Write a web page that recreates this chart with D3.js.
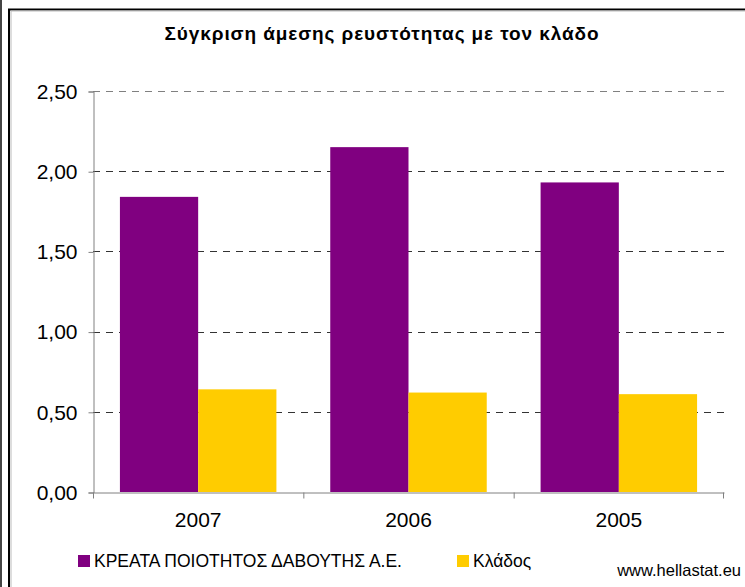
<!DOCTYPE html>
<html lang="el">
<head>
<meta charset="UTF-8" />
<title>Σύγκριση άμεσης ρευστότητας</title>
<style>
  body { margin: 0; background: #fff; }
  svg { display: block; font-family: "Liberation Sans", Arial, sans-serif; }
  .grid line { stroke: #333; stroke-dasharray: 7,6; }
  .grid line.top { stroke: #808080; }
</style>
</head>
<body>
<svg width="745" height="587"></svg>
<script src="https://d3js.org/d3.v7.min.js"></script>
<script>
const years = ['2007', '2006', '2005'];
const seriesNames = ['ΚΡΕΑΤΑ ΠΟΙΟΤΗΤΟΣ ΔΑΒΟΥΤΗΣ Α.Ε.', 'Κλάδος'];
const company = [1.84, 2.15, 1.93];
const sector = [0.64, 0.62, 0.61];
const yTicks = [0, 0.5, 1, 1.5, 2, 2.5];
const colors = ['#800080', '#ffcc00'];

const svg = d3.select('svg');

// outer frame
svg.append('rect').attr('x', 0).attr('y', 0).attr('width', 2).attr('height', 587).attr('fill', '#444');
svg.append('path').attr('d', 'M9,587V9.5H745').attr('fill', 'none').attr('stroke', '#000').attr('stroke-width', 2);
svg.append('path').attr('d', 'M11,587V11H745').attr('fill', 'none').attr('stroke', '#bbb').attr('stroke-width', 1);

svg.append('text')
    .attr('x', 382).attr('y', 40)
    .attr('text-anchor', 'middle')
    .attr('font-size', 19).attr('font-weight', 'bold')
    .attr('letter-spacing', 0.9)
    .text('Σύγκριση άμεσης ρευστότητας με τον κλάδο');

const plotLeft = 93, plotRight = 724, plotTop = 91, plotBottom = 492;

const y = d3.scaleLinear().domain([0, 2.5]).range([plotBottom, plotTop]);
const x0 = d3.scaleBand().domain(years).range([plotLeft, plotRight]);
const x1 = d3.scaleBand().domain([0, 1])
    .range([x0.bandwidth() * 0.128, x0.bandwidth() * 0.872]);

const fmt = d => d3.format('.2f')(d).replace('.', ',');

// gridlines
svg.append('g').attr('class', 'grid')
    .selectAll('line').data(yTicks.filter(d => d > 0)).join('line')
    .attr('class', d => d === 2.5 ? 'top' : null)
    .attr('x1', plotLeft).attr('x2', plotRight)
    .attr('y1', d => Math.round(y(d)) + 0.5).attr('y2', d => Math.round(y(d)) + 0.5);

// bars
const groups = svg.append('g').selectAll('g').data(years).join('g')
    .attr('transform', d => `translate(${x0(d)},0)`);
groups.selectAll('rect')
    .data((d, i) => [company[i], sector[i]])
    .join('rect')
    .attr('x', (d, j) => x1(j))
    .attr('width', x1.bandwidth())
    .attr('y', d => y(d))
    .attr('height', d => plotBottom - y(d))
    .attr('fill', (d, j) => colors[j]);

// y axis
const yAxis = svg.append('g')
    .attr('transform', `translate(${plotLeft + 0.5},0.5)`)
    .call(d3.axisLeft(y).tickValues(yTicks).tickFormat(fmt).tickSize(5).tickPadding(11));
yAxis.select('.domain').attr('stroke', '#808080');
yAxis.selectAll('.tick line').attr('stroke', '#808080');
yAxis.selectAll('.tick text').attr('font-size', 21).attr('fill', '#000')
    .attr('font-family', '"Liberation Sans", Arial, sans-serif');

// x axis
const xAxis = svg.append('g')
    .attr('transform', `translate(0,${plotBottom + 0.5})`)
    .call(d3.axisBottom(x0).tickSize(0).tickPadding(20));
xAxis.select('.domain').attr('stroke', '#808080');
xAxis.selectAll('.tick text').attr('font-size', 21).attr('fill', '#000')
    .attr('font-family', '"Liberation Sans", Arial, sans-serif');
xAxis.selectAll('line.sep').data(years.concat(['end'])).join('line')
    .attr('class', 'sep')
    .attr('x1', (d, i) => i < years.length ? x0(d) + 0.5 : plotRight - 0.5)
    .attr('x2', (d, i) => i < years.length ? x0(d) + 0.5 : plotRight - 0.5)
    .attr('y1', 0).attr('y2', 6)
    .attr('stroke', '#808080');

// legend
const legendX = [78, 457];
const legend = svg.append('g').selectAll('g').data(seriesNames).join('g')
    .attr('transform', (d, i) => `translate(${legendX[i]},555)`);
legend.append('rect').attr('width', 12).attr('height', 12).attr('fill', (d, i) => colors[i]);
legend.append('text').attr('x', 16).attr('y', 12)
    .attr('font-size', 17.5).text(d => d);

svg.append('text')
    .attr('x', 741).attr('y', 576)
    .attr('text-anchor', 'end')
    .attr('font-size', 16.5)
    .text('www.hellastat.eu');
</script>
</body>
</html>
